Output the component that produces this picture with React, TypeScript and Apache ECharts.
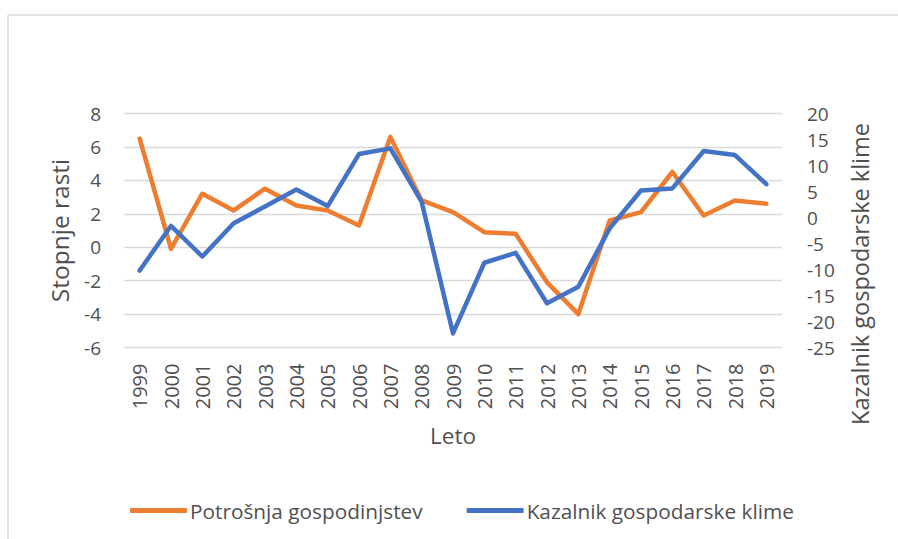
import React, { useEffect, useRef } from "react";
import * as echarts from "echarts";

const years = ["1999","2000","2001","2002","2003","2004","2005","2006","2007","2008","2009","2010","2011","2012","2013","2014","2015","2016","2017","2018","2019"];
const potrosnja = [6.5, -0.1, 3.2, 2.2, 3.5, 2.5, 2.2, 1.3, 6.6, 2.8, 2.1, 0.9, 0.8, -2.1, -4.0, 1.6, 2.1, 4.5, 1.9, 2.8, 2.6];
const kazalnik = [-10.2, -1.6, -7.5, -1.1, 2.1, 5.4, 2.2, 12.2, 13.3, 3.0, -22.3, -8.7, -6.8, -16.5, -13.3, -2.1, 5.2, 5.6, 12.8, 12.0, 6.4];
const seriesNames = ["Potrošnja gospodinjstev", "Kazalnik gospodarske klime"];
const axisTitles = { x: "Leto", left: "Stopnje rasti", right: "Kazalnik gospodarske klime" };

const FONT = "Open Sans";
const TXT = "#505050";

export default function App() {
  const ref = useRef<HTMLDivElement>(null);
  useEffect(() => {
    if (!ref.current) return;
    const chart = echarts.init(ref.current, null, { renderer: "svg" });
    chart.setOption({
      animation: false,
      backgroundColor: "#ffffff",
      textStyle: { fontFamily: FONT },
      grid: { left: 124, right: 116, top: 113.5, bottom: 191.5, containLabel: false, outerBoundsMode: "none" },
      legend: {
        left: 125,
        top: 495,
        itemWidth: 57,
        itemHeight: 5,
        itemGap: 44,
        icon: "roundRect",
        textStyle: { fontFamily: FONT, fontSize: 20.8, color: TXT, padding: [0, 0, 0, -2] },
        data: seriesNames,
      },
      xAxis: {
        type: "category",
        data: years,
        boundaryGap: true,
        axisLine: { show: false },
        axisTick: { show: false },
        axisLabel: { rotate: 90, margin: 16, fontFamily: FONT, fontSize: 20, color: TXT },
        name: axisTitles.x,
        nameLocation: "middle",
        nameGap: 76,
        nameTextStyle: { fontFamily: FONT, fontSize: 22.5, color: TXT },
      },
      yAxis: [
        {
          type: "value",
          min: -6,
          max: 8,
          interval: 2,
          axisLine: { show: false },
          axisTick: { show: false },
          splitLine: { show: true, lineStyle: { color: "#D9D9D9", width: 1.3 } },
          axisLabel: { margin: 23, fontFamily: FONT, fontSize: 19, color: TXT },
          name: axisTitles.left,
          nameLocation: "middle",
          nameRotate: 90,
          nameGap: 52,
          nameTextStyle: { fontFamily: FONT, fontSize: 24.5, color: TXT },
        },
        {
          type: "value",
          min: -25,
          max: 20,
          interval: 5,
          position: "right",
          axisLine: { show: false },
          axisTick: { show: false },
          splitLine: { show: false },
          axisLabel: { margin: 25, fontFamily: FONT, fontSize: 19, color: TXT },
        },
      ],
      graphic: [
        { type: "line", shape: { x1: 8, y1: 15, x2: 898, y2: 15 }, style: { stroke: "#D9D9D9", lineWidth: 1.5 } },
        { type: "line", shape: { x1: 8, y1: 15, x2: 8, y2: 539 }, style: { stroke: "#D9D9D9", lineWidth: 1.5 } },
        {
          type: "text",
          x: 860,
          y: 274,
          rotation: Math.PI / 2,
          style: { text: axisTitles.right, fontFamily: FONT, fontSize: 23.5, fill: TXT, align: "center", verticalAlign: "middle" },
        },
      ],
      series: [
        {
          name: seriesNames[0],
          type: "line",
          data: potrosnja,
          yAxisIndex: 0,
          symbol: "none",
          itemStyle: { color: "#ED7D31" },
          lineStyle: { color: "#ED7D31", width: 4.5, cap: "round", join: "round" },
        },
        {
          name: seriesNames[1],
          type: "line",
          data: kazalnik,
          yAxisIndex: 1,
          symbol: "none",
          itemStyle: { color: "#4472C4" },
          lineStyle: { color: "#4472C4", width: 4.5, cap: "round", join: "round" },
        },
      ],
    });
    return () => chart.dispose();
  }, []);
  return <div ref={ref} style={{ position: "fixed", left: 0, top: 0, width: 898, height: 539 }} />;
}
